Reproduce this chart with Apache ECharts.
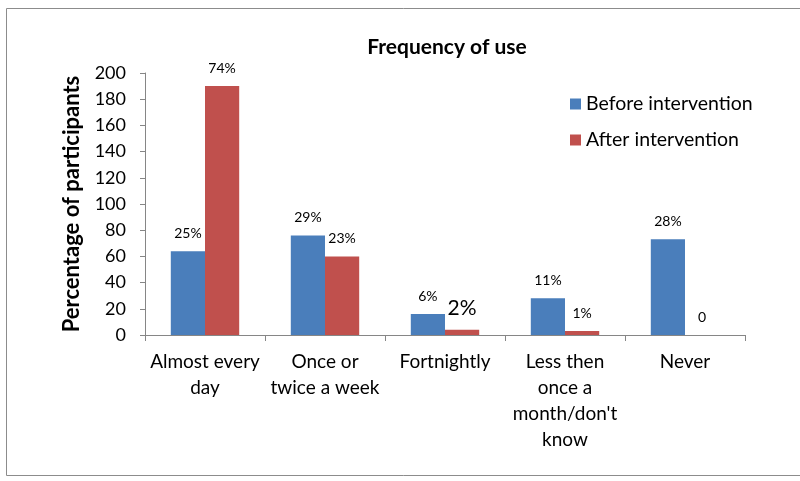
<!DOCTYPE html>
<html>
<head>
<meta charset="utf-8">
<script src="https://cdn.jsdelivr.net/npm/echarts@6/dist/echarts.min.js"></script>
<style>
  html, body { margin: 0; padding: 0; background: #fff; }
  #chart { width: 800px; height: 481px; }
</style>
</head>
<body>
<div id="chart"></div>
<script>
// chart data
const categories = ['Almost every\nday', 'Once or\ntwice a week', 'Fortnightly', "Less then\nonce a\nmonth/don't\nknow", 'Never']
const beforeValues = [64, 76, 16, 28, 73]
const afterValues = [190, 60, 4, 3, 0]
const beforeLabels = ['25%', '29%', '6%', '11%', '28%']
const afterLabels = ['74%', '23%', '2%', '1%', '0']
const yTicks = [0, 20, 40, 60, 80, 100, 120, 140, 160, 180, 200]

const FONT = 'Lato'
const chart = echarts.init(document.getElementById('chart'))

function labelled (values, labels, bigIndex) {
  return values.map((v, i) => ({
    value: v,
    label: {
      formatter: labels[i],
      fontSize: i === bigIndex ? 21 : 14
    }
  }))
}

chart.setOption({
  animation: false,
  textStyle: { fontFamily: FONT, color: '#000' },
  title: {
    text: 'Frequency of use',
    left: 442,
    textAlign: 'center',
    top: 32,
    textStyle: { fontFamily: FONT, fontSize: 21, fontWeight: 'bold', color: '#000' }
  },
  graphic: [{
    type: 'rect',
    shape: { x: 6.5, y: 8.5, width: 810, height: 467 },
    style: { fill: 'none', stroke: '#8c8c8c', lineWidth: 1 },
    silent: true
  }],
  legend: {
    orient: 'vertical',
    left: 565,
    top: 89,
    itemWidth: 11,
    itemHeight: 11,
    itemGap: 16,
    icon: 'rect',
    textStyle: { fontFamily: FONT, fontSize: 19.5, color: '#000' },
    data: ['Before intervention', 'After intervention']
  },
  grid: {
    left: 145,
    right: 55,
    top: 73,
    bottom: 146
  },
  xAxis: {
    type: 'category',
    data: categories,
    axisLine: { lineStyle: { color: '#868686', width: 1 } },
    axisTick: { show: true, alignWithLabel: false, length: 6, lineStyle: { color: '#868686' } },
    axisLabel: {
      fontFamily: FONT,
      fontSize: 19,
      color: '#000',
      lineHeight: 26,
      margin: 14,
      interval: 0
    }
  },
  yAxis: {
    type: 'value',
    min: 0,
    max: yTicks[yTicks.length - 1],
    interval: yTicks[1] - yTicks[0],
    name: 'Percentage of participants',
    nameLocation: 'middle',
    nameGap: 62,
    nameTextStyle: { fontFamily: FONT, fontSize: 22, fontWeight: 'bold', color: '#000' },
    axisLine: { show: true, lineStyle: { color: '#868686', width: 1 } },
    axisTick: { show: true, length: 5, lineStyle: { color: '#868686' } },
    splitLine: { show: false },
    axisLabel: { fontFamily: FONT, fontSize: 18, color: '#000', margin: 19 }
  },
  series: [
    {
      name: 'Before intervention',
      type: 'bar',
      data: labelled(beforeValues, beforeLabels, -1),
      barGap: '0%',
      barCategoryGap: '43%',
      itemStyle: { color: '#4a7ebb' },
      label: { show: true, position: 'top', distance: 11, fontFamily: FONT, color: '#000' }
    },
    {
      name: 'After intervention',
      type: 'bar',
      data: labelled(afterValues, afterLabels, 2),
      itemStyle: { color: '#c0504d' },
      label: { show: true, position: 'top', distance: 11, fontFamily: FONT, color: '#000' }
    }
  ]
})
</script>
</body>
</html>
